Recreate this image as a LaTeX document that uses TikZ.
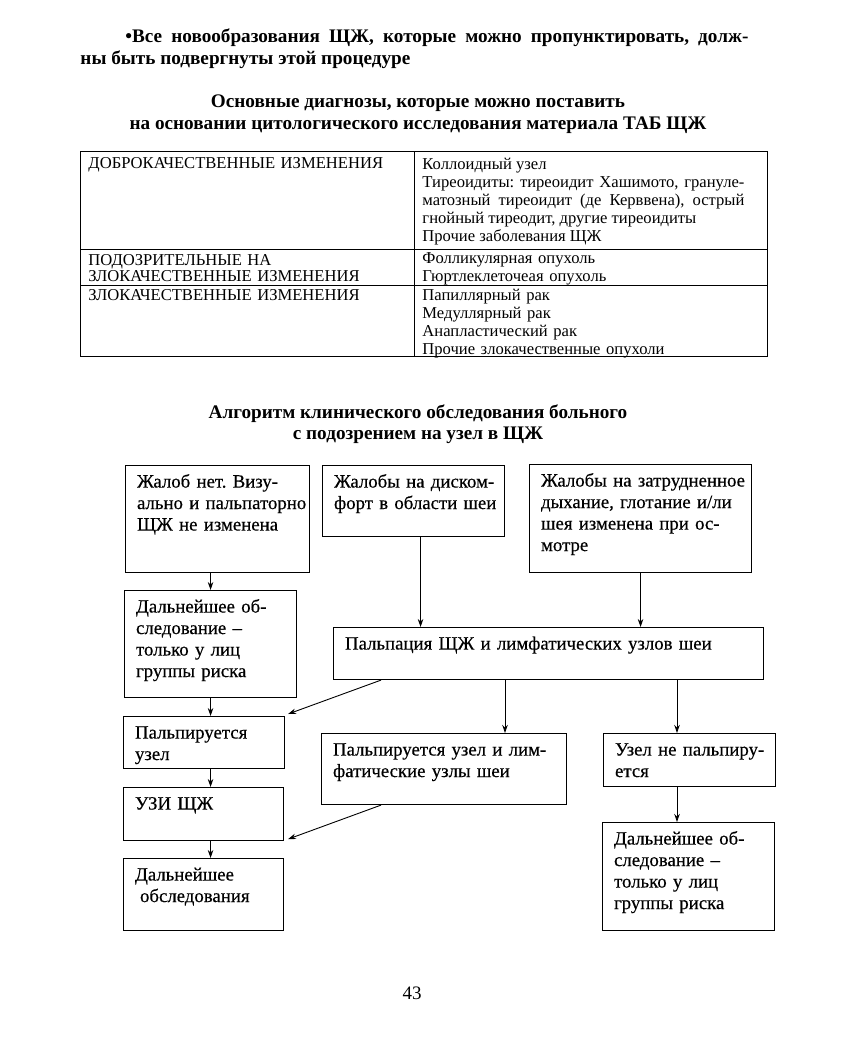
\documentclass[tikz,border=0pt]{standalone}
\usepackage{fontspec}
\setmainfont{Liberation Serif}
\newfontfamily\flowfamily[FakeBold=0.4]{Liberation Serif}
\usetikzlibrary{arrows.meta}
\tikzset{every picture/.style={line width=0.9pt}}
\newcommand{\flowfont}{\flowfamily\fontsize{18.8}{21.5}\selectfont}
\newcommand{\tabfont}{\fontsize{16.6}{18.2}\selectfont}
\newcommand{\headfont}{\fontsize{19.2}{22}\selectfont\bfseries}
\tikzset{
  blk/.style 2 args={draw, line width=1.1pt, anchor=north west, align=left,
    inner xsep=11.5pt, inner ysep=7pt, text height=15pt, text width=#1, text depth=#2, font=\flowfont,
    execute at begin node={\rightskip=-40pt plus 1fil}},
  cell/.style={anchor=base west, inner sep=0pt, font=\tabfont},
  head/.style={anchor=base, inner sep=0pt, font=\headfont},
}

\begin{document}
\frenchspacing
\begin{tikzpicture}[x=1pt, y=-1pt, >={Stealth[length=8pt,width=5.5pt]}]
  \useasboundingbox (0,0) rectangle (855,1044);
  % text above the table
  \node[head, anchor=base west, text width=668pt, align=justify] (intro) at (80,42)
    {\hspace*{45pt}•Все новообразования ЩЖ, которые можно пропунктировать, долж-\linebreak ны быть подвергнуты этой процедуре};
  \node[head] (ttl1) at (418,107) {Основные диагнозы, которые можно поставить};
  \node[head] (ttl2) at (418,129) {на основании цитологического исследования материала ТАБ ЩЖ};
  % table of diagnoses
  \draw[line width=0.8pt] (80,151) rectangle (767,356);
  \draw[line width=0.8pt] (80,249) -- (767,249) (80,285) -- (767,285) (414,151) -- (414,356);
  \node[cell, text width=320pt, align=left] (benign) at (88,168) {ДОБРОКАЧЕСТВЕННЫЕ ИЗМЕНЕНИЯ};
  \node[cell, text width=320pt, align=left] (suspect) at (88,265) {ПОДОЗРИТЕЛЬНЫЕ НА\\[-1.5pt]ЗЛОКАЧЕСТВЕННЫЕ ИЗМЕНЕНИЯ};
  \node[cell, text width=320pt, align=left] (malign) at (88,300) {ЗЛОКАЧЕСТВЕННЫЕ ИЗМЕНЕНИЯ};
  \node[cell, text width=322pt, align=justify] (benignlist) at (422,169)
    {Коллоидный узел\\
     Тиреоидиты: тиреоидит Хашимото, грануле-\linebreak матозный тиреоидит (де Керввена), острый\linebreak гнойный тиреодит, другие тиреоидиты\\
     Прочие заболевания ЩЖ};
  \node[cell, text width=322pt, align=left] (suspectlist) at (422,263)
    {Фолликулярная опухоль\\Гюртлеклеточеая опухоль};
  \node[cell, text width=322pt, align=left] (malignlist) at (422,300)
    {Папиллярный рак\\Медуллярный рак\\Анапластический рак\\Прочие злокачественные опухоли};
  % algorithm
  \node[head] (ttl3) at (418,418) {Алгоритм клинического обследования больного};
  \node[head] (ttl4) at (418,439) {с подозрением на узел в ЩЖ};
  \node[blk={161pt}{78pt}] (a1) at (125,465) {Жалоб нет. Визу-\\ально и пальпаторно\\ЩЖ не изменена};
  \node[blk={159pt}{42pt}] (a2) at (322,465) {Жалобы на диском-\\форт в области шеи};
  \node[blk={199pt}{79pt}] (a3) at (529,464) {Жалобы на затрудненное\\дыхание, глотание и/ли\\шея изменена при ос-\\мотре};
  \node[blk={149pt}{78pt}] (b1) at (124,590) {Дальнейшее об-\\следование –\\только у лиц\\группы риска};
  \node[blk={407pt}{23pt}] (pal) at (333,627) {Пальпация ЩЖ и лимфатических узлов шеи};
  \node[blk={138pt}{23pt}] (n1) at (123,716) {Пальпируется\\узел};
  \node[blk={222pt}{42pt}] (n2) at (321,733) {Пальпируется узел и лим-\\фатические узлы шеи};
  \node[blk={149pt}{24pt}] (n3) at (603,733) {Узел не пальпиру-\\ется};
  \node[blk={137pt}{24pt}] (uzi) at (123,787) {УЗИ ЩЖ};
  \node[blk={137pt}{43pt}] (c1) at (123,858) {Дальнейшее\\\hspace*{5pt}обследования};
  \node[blk={149pt}{79pt}] (c2) at (602,822) {Дальнейшее об-\\следование –\\только у лиц\\группы риска};
  \coordinate (p1) at ([xshift=48pt]pal.south west);
  \coordinate (p2) at ([xshift=172pt]pal.south west);
  \coordinate (p3) at ([xshift=344pt]pal.south west);
  \coordinate (q1) at ([xshift=7pt]a2.south);
  \coordinate (q2) at ([xshift=60pt]n2.south west);
  % connectors
  \draw[->] (a1.south -| b1.north) -- (b1.north);
  \draw[->] (q1) -- (q1 |- pal.north);
  \draw[->] (a3.south) -- (a3.south |- pal.north);
  \draw[->] (b1.south) -- (b1.south |- n1.north);
  \draw[->] (p1) -- ([shift={(3pt,2pt)}]n1.north east);
  \draw[->] (p2) -- (p2 |- n2.north);
  \draw[->] (p3) -- (p3 |- n3.north);
  \draw[->] (n1.south -| b1.south) -- (uzi.north -| b1.south);
  \draw[->] (q2) -- ([shift={(4pt,2pt)}]uzi.south east);
  \draw[->] (uzi.south -| b1.south) -- (c1.north -| b1.south);
  \draw[->] (p3 |- n3.south) -- (p3 |- c2.north);
  \node[font=\fontsize{19}{22}\selectfont, inner sep=0pt] (pagenum) at (412,993) {43};
\end{tikzpicture}
\end{document}
